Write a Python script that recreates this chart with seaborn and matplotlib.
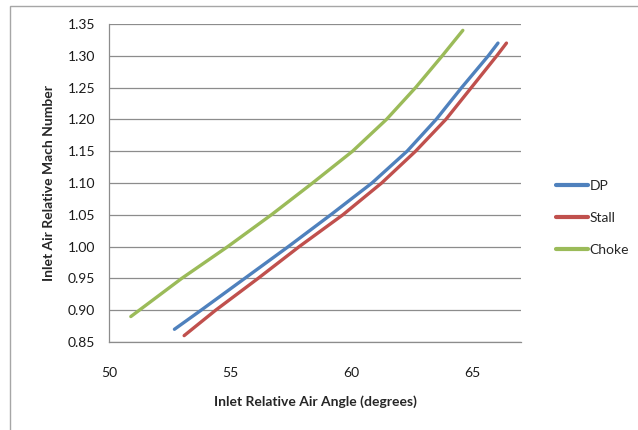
"""
Inlet air relative Mach number vs inlet relative air angle (DP / Stall / Choke).
"""
import pandas as pd
import seaborn as sns
import matplotlib.pyplot as plt
from matplotlib.patches import Rectangle

# --- data ---
dp_x = [52.7, 53.8, 55.6, 57.4, 59.15, 60.85, 62.3, 63.5, 64.55, 65.65, 66.05]
dp_y = [0.87, 0.90, 0.95, 1.00, 1.05, 1.10, 1.15, 1.20, 1.25, 1.30, 1.32]

stall_x = [53.1, 54.4, 56.15, 57.85, 59.65, 61.25, 62.65, 63.9, 64.95, 66.0, 66.4]
stall_y = [0.86, 0.90, 0.95, 1.00, 1.05, 1.10, 1.15, 1.20, 1.25, 1.30, 1.32]

choke_x = [50.9, 53.0, 54.9, 56.7, 58.4, 60.05, 61.45, 62.65, 63.75, 64.6]
choke_y = [0.89, 0.95, 1.00, 1.05, 1.10, 1.15, 1.20, 1.25, 1.30, 1.34]

series = ["DP", "Stall", "Choke"]
colors = {"DP": "#4F81BD", "Stall": "#C0504D", "Choke": "#9BBB59"}

x_ticks = [50, 55, 60, 65]
y_ticks = [0.85, 0.90, 0.95, 1.00, 1.05, 1.10, 1.15, 1.20, 1.25, 1.30, 1.35]


def build_frame():
    parts = []
    for name, xs, ys in [("DP", dp_x, dp_y), ("Stall", stall_x, stall_y), ("Choke", choke_x, choke_y)]:
        parts.append(pd.DataFrame({"angle": xs, "mach": ys, "series": name}))
    return pd.concat(parts, ignore_index=True)


def main():
    df = build_frame()

    sns.set_style("white")
    plt.rcParams["font.family"] = ["Lato", "DejaVu Sans"]

    fig = plt.figure(figsize=(6.38, 4.30), dpi=100)
    ax = fig.add_axes([109 / 638, 1 - 342 / 430, 412 / 638, 318 / 430])

    # outer chart frame (Excel style)
    fig.patches.append(Rectangle((10 / 638, -0.02), 1.0, 1 - 6 / 430 + 0.02,
                                 transform=fig.transFigure, fill=False,
                                 edgecolor="#a6a6a6", linewidth=1.0))

    sns.lineplot(data=df, x="angle", y="mach", hue="series", hue_order=series,
                 palette=colors, sort=False, linewidth=2.4, ax=ax,
                 solid_joinstyle="round", solid_capstyle="round")

    ax.set_xlim(50, 67)
    ax.set_ylim(0.85, 1.35)
    ax.set_xticks(x_ticks)
    ax.set_yticks(y_ticks)
    ax.set_yticklabels([f"{v:.2f}" for v in y_ticks])
    ax.tick_params(axis="both", labelsize=10, colors="#8c8c8c", length=4,
                   width=0.8, direction="out", labelcolor="#1a1a1a")
    ax.tick_params(axis="x", pad=14)
    ax.tick_params(axis="y", pad=6)

    ax.grid(axis="y", color="#8c8c8c", linewidth=0.9)
    ax.set_axisbelow(True)
    for side in ["top", "right"]:
        ax.spines[side].set_visible(False)
    for side in ["left", "bottom"]:
        ax.spines[side].set_color("#8c8c8c")
        ax.spines[side].set_linewidth(0.9)

    ax.set_xlabel("Inlet Relative Air Angle (degrees)", fontsize=10, fontweight="bold",
                  labelpad=12)
    ax.set_ylabel("Inlet Air Relative Mach Number", fontsize=10, fontweight="bold",
                  labelpad=9)

    leg = ax.legend(title=None, frameon=False, fontsize=10, handlelength=2.3,
                    handletextpad=0.1, labelspacing=1.45,
                    loc="center left", bbox_to_anchor=(1.055, 0.39))
    for line in leg.get_lines():
        line.set_linewidth(3.0)

    fig.savefig("out.png", dpi=100)


if __name__ == "__main__":
    main()
